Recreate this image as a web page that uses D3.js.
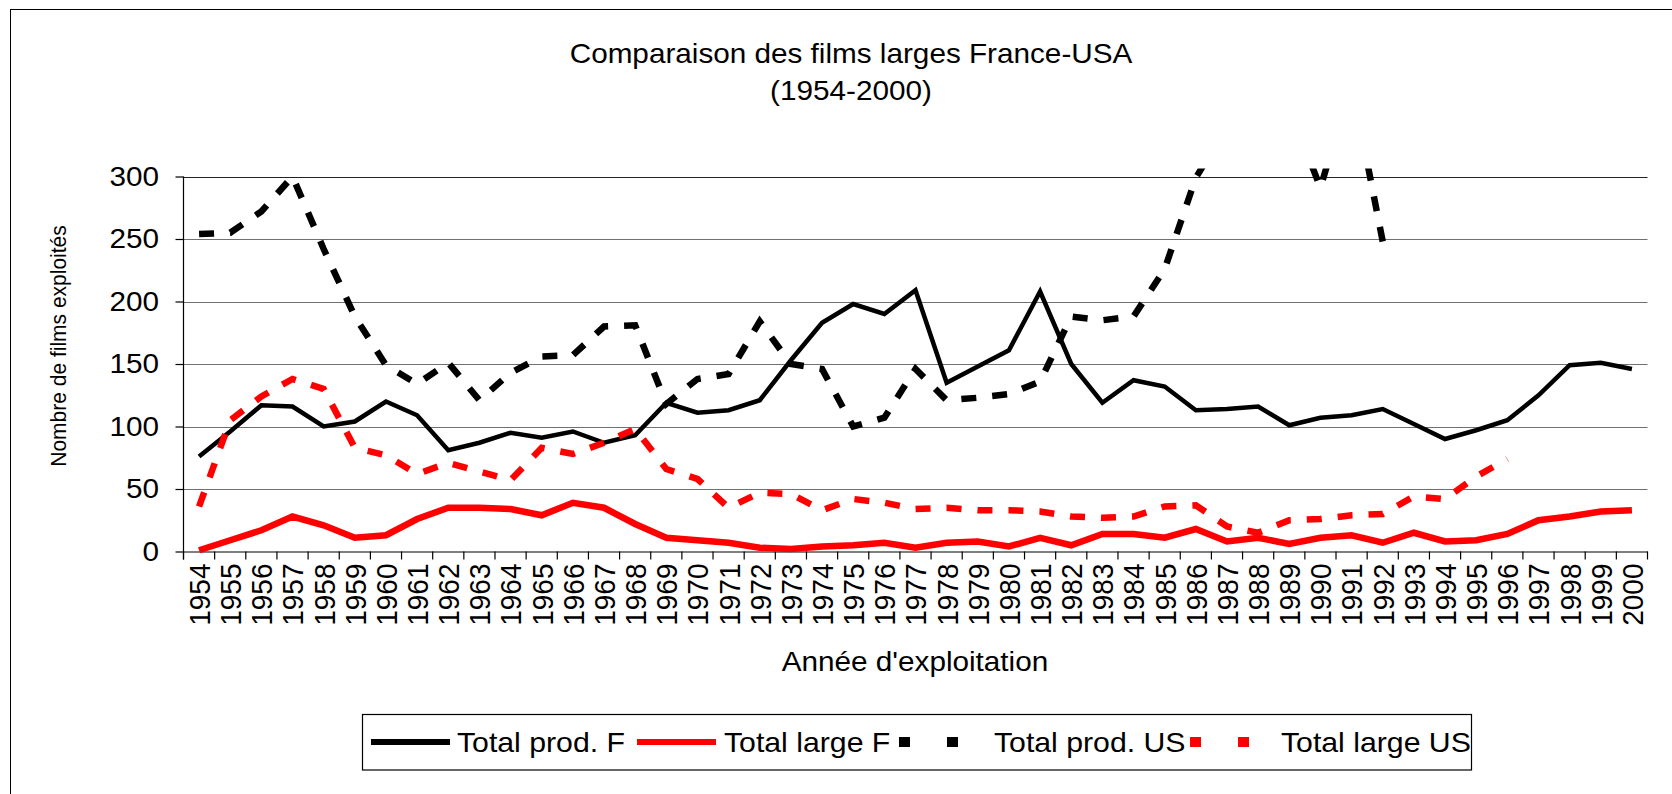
<!DOCTYPE html>
<html>
<head>
<meta charset="utf-8">
<script src="https://cdn.jsdelivr.net/npm/d3@7"></script>
<style>
  html, body { margin: 0; padding: 0; background: #fff; }
  svg { display: block; }
  text { font-family: "Liberation Sans", Arial, sans-serif; fill: #000; }
</style>
</head>
<body>
<svg id="chart" width="1672" height="794"></svg>
<script>
// Années d'exploitation
const years = [1954,1955,1956,1957,1958,1959,1960,1961,1962,1963,
               1964,1965,1966,1967,1968,1969,1970,1971,1972,1973,
               1974,1975,1976,1977,1978,1979,1980,1981,1982,1983,
               1984,1985,1986,1987,1988,1989,1990,1991,1992,1993,
               1994,1995,1996,1997,1998,1999,2000];

// Total prod. F
const prodF = [76,96,117,116,100,104,120,109,81,87,
               95,91,96,87,93,119,111,113,121,153,
               183,198,190,209,135,148,161,208,150,119,
               137,132,113,114,116,101,107,109,114,102,
               90,97,105,125,149,151,146];

// Total large F
const largeF = [1,9,17,28,21,11,13,26,35,35,
                34,29,39,35,22,11,9,7,3,2,
                4,5,7,3,7,8,4,11,5,14,
                14,11,18,8,11,6,11,13,7,15,
                8,9,14,25,28,32,33];

// Total prod. US
const prodUS = [254,255,272,300,242,188,149,134,151,121,
                143,156,157,180,181,118,138,142,184,150,
                146,100,107,146,121,123,126,136,188,185,
                188,226,299,340,350,355,291,375,248,null,
                null,null,null,null,null,null,null];

// Total large US
const largeUS = [36,105,124,138,130,83,77,62,71,64,
                 57,83,78,87,98,66,58,35,47,46,
                 33,42,39,34,35,33,33,32,28,27,
                 28,36,37,20,15,25,26,29,30,44,
                 42,60,74,null,null,null,null];

const yTicks = [0, 50, 100, 150, 200, 250, 300];
const seriesNames = ["Total prod. F", "Total large F", "Total prod. US", "Total large US"];
const titleLines = ["Comparaison des films larges France-USA", "(1954-2000)"];
const xTitle = "Année d'exploitation";
const yTitle = "Nombre de films exploités";

(function draw() {
  const W = 1672, H = 794;
  const SX = 1.08; // slight horizontal widening of the lettering

  const svg = d3.select("#chart");

  // chart frame
  svg.append("rect")
    .attr("x", 10.5).attr("y", 9.5)
    .attr("width", W).attr("height", H)
    .attr("fill", "#fff").attr("stroke", "#000").attr("stroke-width", 1);

  const pl = 183.5, pr = 1647.5, pt = 176.5, pb = 551.5;

  const x = d3.scaleBand().domain(years).range([pl, pr]);
  const cx = d => x(d) + x.bandwidth() / 2;
  const y = d3.scaleLinear().domain([0, 300]).range([pb, pt]);

  function stretchedText(g, txt, tx, ty, size, anchor, rot) {
    return g.append("text")
      .attr("transform", `translate(${tx},${ty}) scale(${SX},1)` + (rot ? ` rotate(${rot})` : ""))
      .attr("font-size", size)
      .attr("text-anchor", anchor)
      .text(txt);
  }

  // horizontal gridlines
  svg.append("g").selectAll("line")
    .data(yTicks.filter(t => t > 0))
    .join("line")
    .attr("x1", pl).attr("x2", pr)
    .attr("y1", d => Math.round(y(d)) + 0.5).attr("y2", d => Math.round(y(d)) + 0.5)
    .attr("stroke", d => d === 300 ? "#222" : "#707070")
    .attr("stroke-width", 1.2);

  // y axis
  const yAxis = svg.append("g")
    .attr("transform", `translate(${pl},0)`)
    .call(d3.axisLeft(y).tickValues(yTicks).tickSize(8).tickSizeOuter(0).tickPadding(22.7 - 8));
  yAxis.select(".domain").remove();
  yAxis.selectAll("line").attr("stroke", "#000").attr("stroke-width", 1.2);
  yAxis.selectAll("text")
    .attr("font-size", 27.5)
    .attr("font-family", "Liberation Sans, Arial, sans-serif")
    .attr("transform", `scale(${SX},1)`);
  svg.append("line")
    .attr("x1", pl).attr("x2", pl)
    .attr("y1", pt).attr("y2", pb + 8)
    .attr("stroke", "#000").attr("stroke-width", 1.2);

  // x axis labels (rotated)
  const xAxis = svg.append("g")
    .attr("transform", `translate(0,${pb})`)
    .call(d3.axisBottom(x).tickSize(0).tickSizeOuter(0));
  xAxis.select(".domain").attr("stroke", "#000").attr("stroke-width", 1.2);
  xAxis.selectAll("text")
    .attr("font-size", 28)
    .attr("font-family", "Liberation Sans, Arial, sans-serif")
    .attr("text-anchor", "end")
    .attr("x", -12).attr("y", 0).attr("dy", "0.36em")
    .attr("transform", `scale(${SX},1) rotate(-90)`);

  // x tick marks between categories
  svg.append("g").selectAll("line")
    .data(years.map(d => x(d)).concat([pr]))
    .join("line")
    .attr("x1", d => d).attr("x2", d => d)
    .attr("y1", pb).attr("y2", pb + 8)
    .attr("stroke", "#000").attr("stroke-width", 1.2);

  // series
  svg.append("clipPath").attr("id", "plotClip")
    .append("rect")
    .attr("x", pl).attr("y", pt - 8)
    .attr("width", pr - pl).attr("height", pb - pt + 20);

  const series = [
    { name: seriesNames[0], values: prodF,   color: "#000",    width: 4.5, dash: null },
    { name: seriesNames[1], values: largeF,  color: "#ff0000", width: 6.5, dash: null },
    { name: seriesNames[2], values: prodUS,  color: "#000",    width: 6.5, dash: "15,16" },
    { name: seriesNames[3], values: largeUS, color: "#ff0000", width: 6.5, dash: "15,16" }
  ];

  const line = d3.line()
    .defined(d => d.v != null)
    .x(d => cx(d.year))
    .y(d => y(d.v));

  const plot = svg.append("g").attr("clip-path", "url(#plotClip)");
  series.forEach(s => {
    plot.append("path")
      .datum(years.map((yr, i) => ({ year: yr, v: s.values[i] })))
      .attr("d", line)
      .attr("fill", "none")
      .attr("stroke", s.color)
      .attr("stroke-width", s.width)
      .attr("stroke-linejoin", "miter")
      .attr("stroke-dasharray", s.dash);
  });

  // titles
  stretchedText(svg, titleLines[0], 851, 63, 27.5, "middle");
  stretchedText(svg, titleLines[1], 851, 100, 27.5, "middle");
  stretchedText(svg, xTitle, 915, 671, 27.5, "middle");
  svg.append("text")
    .attr("transform", `translate(66,346) scale(${SX},1) rotate(-90)`)
    .attr("font-size", 21)
    .attr("text-anchor", "middle")
    .text(yTitle);

  // legend
  const legend = svg.append("g");
  legend.append("rect")
    .attr("x", 362.5).attr("y", 714.5)
    .attr("width", 1109).attr("height", 55.5)
    .attr("fill", "#fff").attr("stroke", "#000").attr("stroke-width", 1.2);

  const legendItems = [
    { s: series[0], x0: 371, tx: 457 },
    { s: series[1], x0: 637, tx: 724 },
    { s: series[2], x0: 899, tx: 994 },
    { s: series[3], x0: 1190, tx: 1281 }
  ];
  const ly = 742;
  legendItems.forEach(it => {
    legend.append("line")
      .attr("x1", it.x0).attr("x2", it.x0 + 79)
      .attr("y1", ly).attr("y2", ly)
      .attr("stroke", it.s.color)
      .attr("stroke-width", it.s.dash ? 10 : 6)
      .attr("stroke-dasharray", it.s.dash ? "11,37" : null);
    stretchedText(legend, it.s.name, it.tx, ly + 10, 28, "start");
  });
})();
</script>
</body>
</html>
